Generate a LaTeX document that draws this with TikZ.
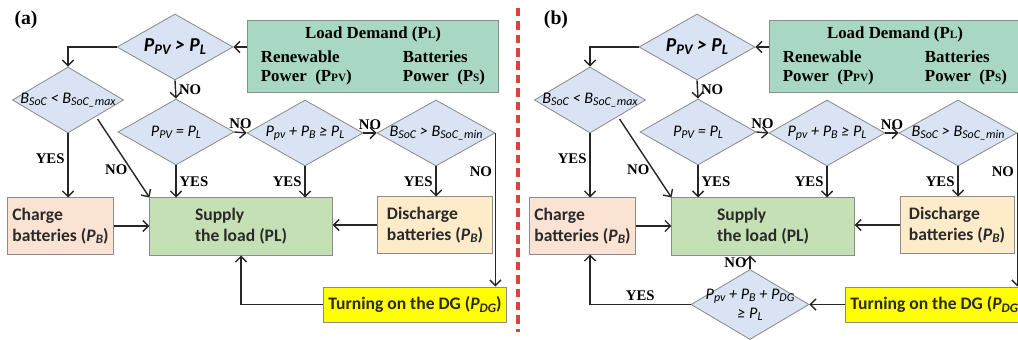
\documentclass[tikz,border=0pt]{standalone}
\usepackage{fontspec}
\setmainfont{Carlito}
\newfontfamily\tnr{Liberation Serif}
\usetikzlibrary{arrows.meta, shapes.geometric}
\definecolor{cdiam}{HTML}{DAE3F3}
\definecolor{cload}{HTML}{A8D8C4}
\definecolor{ccharge}{HTML}{FBE3D3}
\definecolor{csupply}{HTML}{C5E0B4}
\definecolor{cdis}{HTML}{FDEBC9}
\definecolor{cdg}{HTML}{FFFF00}
\definecolor{cedge}{HTML}{8C8C8C}
\definecolor{ctext}{HTML}{2A2A2A}
\definecolor{cred}{HTML}{D9443B}
\makeatletter
\newcommand\lo[1]{\raisebox{-0.3ex}{\fontsize{\fpeval{0.74*\f@size}}{1}\selectfont #1}}
\makeatother
\tikzset{
  every picture/.style={line width=1pt},
  decision/.style={diamond, draw=cedge, fill=cdiam, line width=0.6pt, inner sep=0pt,
    minimum width=2.9cm, minimum height=1.65cm},
  dtext/.style={font=\fontsize{11.5}{13.5}\selectfont\itshape, align=center},
  box/.style={draw=cedge, fill=#1, line width=0.7pt, align=left, text=ctext,
    font=\fontsize{12.5}{15}\selectfont\bfseries},
  arrow/.style={-{Straight Barb[length=1.4mm, width=2.8mm]}, draw=black!85},
  yn/.style={font=\tnr\bfseries\fontsize{10.5}{12}\selectfont, inner sep=2pt},
  tag/.style={font=\tnr\bfseries\fontsize{14}{16}\selectfont},
  sep/.style={draw=cred, line width=2.2pt, dash pattern=on 6pt off 3.5pt},
}

\begin{document}
\begin{tikzpicture}[x=0.025cm, y=-0.025cm]
  \useasboundingbox (0,0) rectangle (1018,340);
  \foreach \p/\dx/\tx in {a/0/26, b/522/556} {
    % ---------- panel (\p) ----------
    \node[tag] (\p-tag) at (\tx,20) {(\p)};
    \node[box=cload, minimum width=6.25cm, minimum height=1.725cm, text=black,
      font=\tnr\bfseries\fontsize{12}{14}\selectfont] (\p-load) at (373+\dx,56.5) {%
      \begin{tabular}{@{}p{3.55cm}@{}l@{}}
        \multicolumn{2}{c}{Load Demand (P{\footnotesize L})}\\[2.5pt]
        Renewable & Batteries\\
        Power~~(P{\footnotesize PV}) & Power~~(P{\footnotesize S})
      \end{tabular}};
    \node[decision, label={[dtext, font=\fontsize{14}{16}\selectfont\bfseries\itshape]center:P\lo{PV} > P\lo{L}}] (\p-pvpl) at (175+\dx,47) {};
    \node[decision, minimum width=2.78cm, label={[dtext]center:B\lo{SoC} < B\lo{SoC\_max}}] (\p-socmax) at (68+\dx,100) {};
    \node[decision, label={[dtext]center:P\lo{PV} = P\lo{L}}] (\p-pveq) at (176+\dx,132) {};
    \node[decision, label={[dtext]center:P\lo{pv} + P\lo{B} ≥ P\lo{L}}] (\p-pvpb) at (305+\dx,133) {};
    \node[decision, minimum width=2.95cm, label={[dtext]center:B\lo{SoC} > B\lo{SoC\_min}}] (\p-socmin) at (436+\dx,133) {};
    \node[box=ccharge, minimum width=2.625cm, minimum height=1.4cm] (\p-charge) at (60.5+\dx,226) {Charge\\batteries (\textit{P\lo{B}})};
    \node[box=csupply, minimum width=4.55cm, minimum height=1.425cm] (\p-supply) at (241+\dx,226.5) {Supply\\the load (PL)};
    \node[box=cdis, minimum width=2.85cm, minimum height=1.4cm] (\p-discharge) at (435+\dx,225) {Discharge\\batteries (\textit{P\lo{B}})};
    \node[box=cdg, minimum width=4.35cm, minimum height=0.875cm] (\p-dg) at (415+\dx,304.5) {Turning on the DG (\textit{P\lo{DG}})};
    % connectors
    \draw[arrow] (\p-pvpl.east -| \p-load.west) -- (\p-pvpl.east);
    \draw[arrow] (\p-pvpl.west) -| (\p-socmax.north);
    \draw[arrow] (\p-pvpl.south) -- (\p-pveq.north) node[yn, right, midway] {NO};
    \draw[arrow] (\p-pveq.east) -- (\p-pvpb.west) node[yn, above, midway] {NO};
    \draw[arrow] (\p-pvpb.east) -- (\p-socmin.west) node[yn, above, midway] {NO};
    \draw[arrow] (\p-socmin.east) -- (\p-socmin.east |- \p-dg.north) node[yn, left, pos=0.25] {NO};
    \draw[arrow] (\p-socmax.south) -- (\p-socmax.south |- \p-charge.north) node[yn, left, pos=0.4] {YES};
    \draw[arrow, shorten <=2pt] (\p-socmax.south east) -- (\p-supply.north west) node[yn, left, pos=0.65] {NO};
    \draw[arrow] (\p-pveq.south) -- (\p-pveq.south |- \p-supply.north) node[yn, right, midway] {YES};
    \draw[arrow] (\p-pvpb.south) -- (\p-pvpb.south |- \p-supply.north) node[yn, left, midway] {YES};
    \draw[arrow] (\p-socmin.south) -- (\p-socmin.south |- \p-discharge.north) node[yn, left, midway] {YES};
    \draw[arrow] (\p-charge.east) -- (\p-charge.east -| \p-supply.west);
    \draw[arrow] (\p-discharge.west) -- (\p-discharge.west -| \p-supply.east);
  }
  % ---------- (a): DG feeds the load ----------
  \draw[arrow] (a-dg.west) -| (a-supply.south);
  % ---------- (b): extra check after DG ----------
  \node[decision, minimum width=2.95cm, minimum height=1.75cm, label={[dtext]center:P\lo{pv} + P\lo{B} + P\lo{DG}\\≥ P\lo{L}}] (b-chk) at (750,304.5) {};
  \draw[arrow] (b-dg.west) -- (b-chk.east);
  \draw[arrow] (b-chk.north) -- (b-chk.north |- b-supply.south) node[yn, left, midway] {NO};
  \draw[arrow] (b-chk.west) -| (b-socmax.south |- b-charge.south) node[yn, above, pos=0.25] {YES};
  % separator
  \draw[sep] (518,8) -- (518,332);
\end{tikzpicture}
\end{document}
